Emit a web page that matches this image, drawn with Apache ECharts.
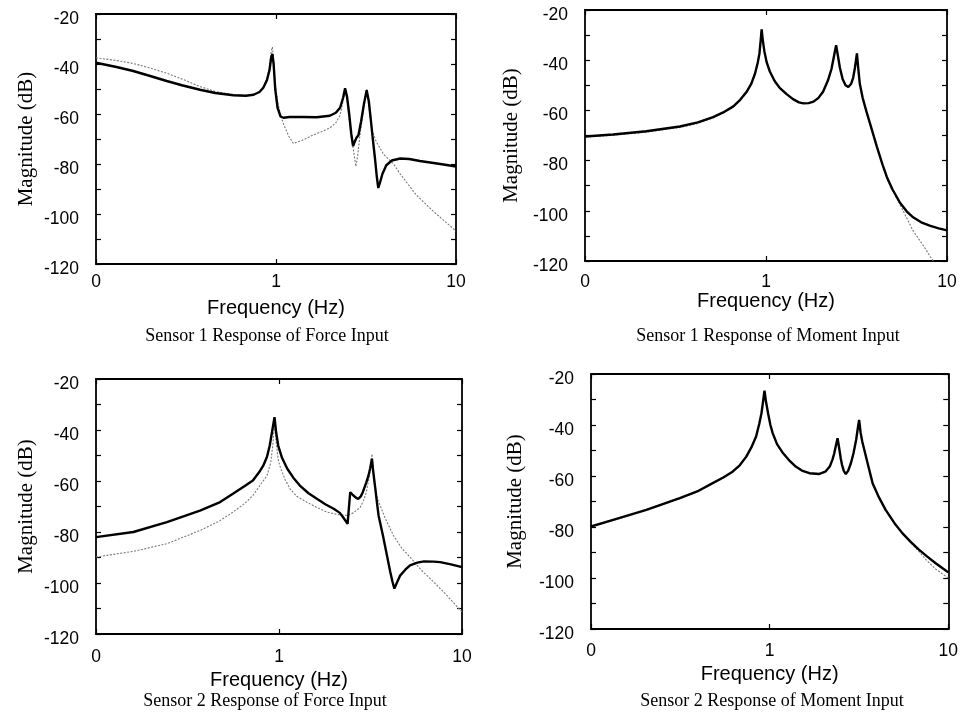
<!DOCTYPE html>
<html>
<head>
<meta charset="utf-8">
<script src="https://cdn.jsdelivr.net/npm/echarts@6/dist/echarts.min.js"></script>
<style>
html,body{margin:0;padding:0;background:#fff;}
#chart{width:961px;height:720px;}
</style>
</head>
<body>
<div id="chart"></div>
<script>
// ---------- labels ----------
const panelTitles = [
  'Sensor 1 Response of Force Input',
  'Sensor 1 Response of Moment Input',
  'Sensor 2 Response of Force Input',
  'Sensor 2 Response of Moment Input'
];
const xAxisTitle = 'Frequency (Hz)';
const yAxisTitle = 'Magnitude (dB)';
const xTickValues = [0.1, 1, 10];
const xTickLabels = ['0', '1', '10'];
const yMin = -120, yMax = -20, yStep = 20;

// ---------- Panel 1: Sensor 1, force input ----------
const p1SolidFreq = [0.1,0.13,0.161,0.2,0.247,0.3,0.378,0.46,0.58,0.68,0.75,0.81,0.85,0.89,0.92,0.94,0.955,0.97,0.99,1.02,1.06,1.1,1.19,1.4,1.68,1.99,2.15,2.27,2.36,2.42,2.48,2.55,2.62,2.68,2.74,2.8,2.87,2.97,3.08,3.19,3.28,3.36,3.45,3.55,3.63,3.7,3.78,3.9,4.1,4.4,4.9,5.5,6.3,7.5,8.7,10];
const p1Solid = [-39.5,-41.2,-42.8,-44.8,-46.8,-48.5,-50.3,-51.6,-52.5,-52.7,-52.3,-51.2,-49.5,-46.5,-42.5,-37.5,-36,-40,-50,-57.5,-61,-61.5,-61.2,-61.2,-61.3,-60.7,-59.5,-57.5,-53.5,-49.7,-53,-60,-68,-72.8,-71,-69.5,-68.5,-63,-56,-50.5,-55,-62,-70,-78,-85,-89.6,-87.5,-84,-80.5,-78.6,-77.8,-78,-78.8,-79.6,-80.3,-81];
const p1DotFreq = [0.1,0.13,0.161,0.2,0.247,0.3,0.378,0.46,0.58,0.68,0.75,0.81,0.85,0.89,0.92,0.94,0.955,0.97,0.99,1.02,1.06,1.1,1.18,1.25,1.4,1.6,1.8,2.0,2.15,2.27,2.34,2.42,2.48,2.55,2.62,2.7,2.78,2.85,2.92,3.0,3.1,3.19,3.28,3.4,3.6,3.95,4.5,4.9,6.0,7.5,10];
const p1Dot = [-37.5,-38.6,-39.8,-41.6,-43.7,-46,-49,-51,-52.3,-52.6,-52.2,-51,-49.2,-46,-41,-35,-33.2,-39,-48,-55,-60.5,-64,-69,-71.8,-70.5,-68.5,-67,-65.5,-63.5,-60.5,-56,-50.5,-54,-62,-69,-75,-81,-76,-69,-63,-55,-50,-57,-66,-71,-76,-80,-84,-92.3,-99,-106.8];

// ---------- Panel 2: Sensor 1, moment input ----------
const p2SolidFreq = [0.1,0.143,0.218,0.334,0.42,0.51,0.58,0.66,0.72,0.78,0.83,0.87,0.9,0.92,0.935,0.946,0.96,0.98,1.01,1.05,1.12,1.19,1.3,1.41,1.52,1.61,1.72,1.83,1.95,2.07,2.2,2.3,2.38,2.44,2.5,2.56,2.65,2.75,2.85,2.95,3.03,3.1,3.18,3.24,3.3,3.42,3.59,3.8,4.1,4.4,4.65,5.0,5.5,6.0,6.5,7.2,8.1,9.0,10];
const p2Solid = [-70.4,-69.6,-68.3,-66.4,-64.8,-62.7,-60.8,-58.4,-55.8,-52.7,-49.3,-45.3,-41,-37.3,-32,-27.7,-32,-36.5,-41,-44.5,-48.5,-51,-53.5,-55.5,-56.8,-57.2,-57.1,-56.5,-55,-52.5,-48,-43.5,-38,-34,-38.5,-43,-47.5,-50,-50.7,-49.5,-47,-43,-37.3,-44,-49.5,-55,-60.5,-66.5,-74.5,-81.5,-86.5,-91.5,-96.8,-100.3,-102.6,-104.6,-106,-107,-107.8];
const p2DotFreq = [0.1,0.143,0.218,0.334,0.42,0.51,0.58,0.66,0.72,0.78,0.83,0.87,0.9,0.92,0.935,0.946,0.96,0.98,1.01,1.05,1.12,1.19,1.3,1.41,1.52,1.61,1.72,1.83,1.95,2.07,2.2,2.3,2.38,2.44,2.5,2.56,2.65,2.75,2.85,2.95,3.03,3.1,3.18,3.24,3.3,3.42,3.59,3.8,4.1,4.4,4.75,5.5,6.5,7.5,8.1,8.5];
const p2Dot = [-70.6,-69.9,-68.7,-66.8,-65.2,-63,-61,-58.6,-56,-52.9,-49.4,-45.4,-41,-37.3,-32,-27.8,-32,-36.5,-41,-44.5,-48.5,-51,-53.5,-55.5,-56.8,-57.2,-57.1,-56.5,-55,-52.5,-48,-43.5,-38,-34,-38.5,-43,-47.5,-50,-50.7,-49.5,-47,-43,-37.3,-44,-49.5,-55,-60.5,-66.5,-74.5,-81.5,-88.7,-97.5,-108,-114.5,-118.4,-120.5];

// ---------- Panel 3: Sensor 2, force input ----------
const p3SolidFreq = [0.1,0.16,0.244,0.37,0.47,0.56,0.65,0.72,0.78,0.82,0.86,0.89,0.915,0.945,0.965,0.99,1.04,1.11,1.2,1.3,1.45,1.61,1.8,1.99,2.15,2.24,2.32,2.37,2.42,2.45,2.5,2.55,2.63,2.71,2.8,2.87,2.95,3.0,3.08,3.15,3.22,3.27,3.32,3.36,3.43,3.5,3.7,3.89,4.05,4.17,4.27,4.4,4.6,4.9,5.2,5.7,6.2,7.0,7.6,8.7,10];
const p3Solid = [-82,-80,-76.1,-71.6,-68.5,-65,-62,-59.8,-56.5,-54,-50.5,-46.1,-41,-35,-41,-46.1,-51,-55.2,-58.8,-61.8,-64.8,-67,-69.2,-70.9,-72.5,-74.2,-75.8,-76.8,-69,-64.4,-64.5,-65.7,-66.5,-67,-66,-64.4,-62,-60.5,-58,-55,-51.3,-56,-60,-63,-68.5,-73.5,-81.5,-89.2,-95.5,-99.5,-102.2,-100,-97,-94.8,-93.1,-92,-91.5,-91.6,-91.8,-92.7,-93.8];
const p3DotFreq = [0.1,0.16,0.244,0.37,0.47,0.56,0.65,0.72,0.8,0.86,0.9,0.925,0.945,0.965,0.99,1.01,1.08,1.15,1.25,1.42,1.6,1.83,2.1,2.35,2.55,2.78,2.9,3.0,3.1,3.18,3.22,3.28,3.36,3.45,3.57,3.8,4.22,4.7,5.2,6.0,7.0,8.3,10];
const p3Dot = [-89.8,-87.6,-84.6,-79.4,-75.8,-72.2,-68.8,-65.7,-61,-57.9,-53,-46,-37,-45,-51.5,-54,-59.5,-63.1,-66,-68.3,-70.3,-72.2,-73.2,-73.5,-72.5,-70.3,-67.5,-64.4,-59,-53,-49.4,-56,-63,-67,-69.6,-74.5,-81.4,-86.5,-89.8,-95,-99.6,-105,-111.4];

// ---------- Panel 4: Sensor 2, moment input ----------
const p4SolidFreq = [0.1,0.133,0.204,0.314,0.4,0.48,0.55,0.62,0.68,0.74,0.79,0.84,0.875,0.9,0.92,0.936,0.955,0.98,1.01,1.04,1.1,1.19,1.3,1.4,1.53,1.67,1.9,2.05,2.17,2.25,2.3,2.35,2.4,2.45,2.5,2.54,2.6,2.67,2.75,2.85,2.95,3.05,3.12,3.17,3.23,3.3,3.39,3.55,3.77,4.1,4.46,5.0,5.53,6.2,6.85,7.6,8.5,9.3,10];
const p4Solid = [-79.8,-77.2,-73.3,-68.7,-65.8,-62.8,-60.6,-58.3,-55.8,-52.4,-48.8,-44.5,-39.5,-35.4,-30.5,-26.5,-31,-35.4,-40,-43.2,-47.5,-51.1,-54.2,-56.3,-58,-58.9,-59.2,-58.3,-56.3,-53.5,-51.1,-48,-45.2,-49,-53,-55.5,-58,-59.2,-58,-55,-51,-45.8,-41,-38,-43,-46.5,-49.8,-55.5,-62.8,-68.5,-73.3,-78.5,-82.4,-86,-88.9,-91.5,-94.2,-96.2,-97.8];
const p4DotFreq = [0.1,0.133,0.204,0.314,0.4,0.48,0.55,0.62,0.68,0.74,0.79,0.84,0.875,0.9,0.92,0.936,0.955,0.98,1.01,1.04,1.1,1.19,1.3,1.4,1.53,1.67,1.9,2.05,2.17,2.25,2.3,2.35,2.4,2.45,2.5,2.54,2.6,2.67,2.75,2.85,2.95,3.05,3.12,3.17,3.23,3.3,3.39,3.55,3.77,4.1,4.46,5.0,5.53,6.2,6.85,7.5,8.5,10];
const p4Dot = [-79.9,-77.4,-73.5,-68.9,-66,-63,-60.7,-58.4,-55.9,-52.5,-48.9,-44.6,-39.6,-35.5,-30.6,-26.8,-31,-35.4,-40,-43.2,-47.5,-51.1,-54.2,-56.3,-58,-58.9,-59.2,-58.3,-56.3,-53.5,-51.1,-48,-45.2,-49,-53,-55.5,-58,-59.2,-58,-55,-51,-45.8,-41,-38,-43,-46.5,-49.8,-55.5,-62.8,-68.5,-73.3,-78.5,-82.4,-86.3,-89.6,-92.8,-96.5,-100];

// ---------- layout ----------
const panels = [
  {grid:{left:96, top:14, width:360, height:250}, solidF:p1SolidFreq, solid:p1Solid, dotF:p1DotFreq, dot:p1Dot,
   title:{x:262, y:322}, yNameGap:59, xNameGap:34, xLabMargin:9},
  {grid:{left:585, top:10, width:362, height:251}, solidF:p2SolidFreq, solid:p2Solid, dotF:p2DotFreq, dot:p2Dot,
   title:{x:763, y:322}, yNameGap:63, xNameGap:30, xLabMargin:12},
  {grid:{left:96, top:379, width:366, height:255}, solidF:p3SolidFreq, solid:p3Solid, dotF:p3DotFreq, dot:p3Dot,
   title:{x:260, y:687}, yNameGap:59, xNameGap:36, xLabMargin:14},
  {grid:{left:591, top:374, width:358, height:255}, solidF:p4SolidFreq, solid:p4Solid, dotF:p4DotFreq, dot:p4Dot,
   title:{x:767, y:687}, yNameGap:65, xNameGap:35, xLabMargin:13}
];

const SANS = '"Liberation Sans", Arial, sans-serif';
const SERIF = '"Liberation Serif", "Times New Roman", serif';
const zip = (a, b) => a.map((v, i) => [v, b[i]]);

const grid = [], xAxis = [], yAxis = [], series = [], title = [];
const frameLine = {show:true, lineStyle:{color:'#000', width:1.8}};

panels.forEach((p, i) => {
  grid.push(Object.assign({containLabel:false}, p.grid));
  const xCommon = {type:'log', logBase:10, min:0.1, max:10, gridIndex:i,
    axisLine:frameLine, splitLine:{show:false},
    axisTick:{show:true, inside:true, length:5, lineStyle:{color:'#000', width:1.2}}};
  xAxis.push(Object.assign({}, xCommon, {
    position:'bottom',
    axisLabel:{show:true, margin:p.xLabMargin, color:'#000', fontFamily:SANS, fontSize:17.5,
      formatter: v => { const k = xTickValues.findIndex(t => Math.abs(t - v) < 1e-6 * Math.max(1, t)); return k >= 0 ? xTickLabels[k] : ''; }},
    name:xAxisTitle, nameLocation:'middle', nameGap:p.xNameGap,
    nameTextStyle:{color:'#000', fontFamily:SANS, fontSize:20}
  }));
  xAxis.push(Object.assign({}, xCommon, {position:'top', axisLabel:{show:false}}));
  const yCommon = {type:'value', min:yMin, max:yMax, interval:yStep, gridIndex:i,
    axisLine:frameLine, splitLine:{show:false},
    axisTick:{show:true, inside:true, length:5, lineStyle:{color:'#000', width:1.2}},
    minorTick:{show:true, splitNumber:2, length:5, lineStyle:{color:'#000', width:1.2}}};
  yAxis.push(Object.assign({}, yCommon, {
    position:'left',
    axisLabel:{show:true, margin:17, color:'#000', fontFamily:SANS, fontSize:17.5,
      verticalAlign:'top', lineHeight:10},
    name:yAxisTitle, nameLocation:'middle', nameGap:p.yNameGap, nameRotate:90,
    nameTextStyle:{color:'#000', fontFamily:SERIF, fontSize:21}
  }));
  yAxis.push(Object.assign({}, yCommon, {position:'right', axisLabel:{show:false}}));
  series.push({
    type:'line', xAxisIndex:2*i, yAxisIndex:2*i, data:zip(p.dotF, p.dot),
    showSymbol:false, symbol:'none', clip:true, z:2,
    lineStyle:{color:'#7a7a7a', width:1.1, type:[2,1.5]}
  });
  series.push({
    type:'line', xAxisIndex:2*i, yAxisIndex:2*i, data:zip(p.solidF, p.solid),
    showSymbol:false, symbol:'none', clip:true, z:3,
    lineStyle:{color:'#000', width:2.4}
  });
  title.push({text:panelTitles[i], left:p.title.x, top:p.title.y, textAlign:'center',
    textStyle:{color:'#000', fontFamily:SERIF, fontSize:18, fontWeight:'normal'}});
});

const chart = echarts.init(document.getElementById('chart'), null, {renderer:'canvas'});
chart.setOption({
  animation:false,
  backgroundColor:'#fff',
  title, grid, xAxis, yAxis, series
});
</script>
</body>
</html>
